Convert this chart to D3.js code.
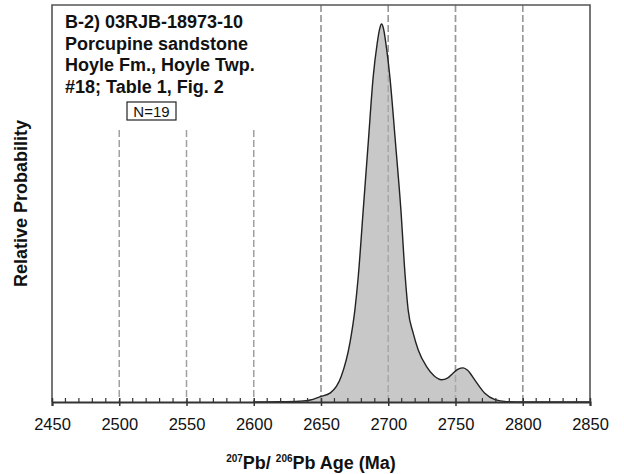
<!DOCTYPE html>
<html>
<head>
<meta charset="utf-8">
<script src="https://cdn.jsdelivr.net/npm/d3@7"></script>
<style>
  html, body { margin: 0; padding: 0; background: #fff; }
  svg { display: block; font-family: "Liberation Sans", Arial, sans-serif; }
</style>
</head>
<body>
<svg id="chart" width="624" height="474"></svg>
<script>
// Probability density curve: age (Ma) and relative probability
const ages = [2600, 2620, 2634, 2642, 2649, 2657, 2665, 2671.5, 2675.2, 2677.7, 2681.4, 2685.1,
              2688.8, 2691.8, 2693.6, 2695, 2696.5, 2698.2, 2701.2, 2705.4, 2709.4, 2712.6, 2714.8,
              2718.5, 2722.3, 2728.5, 2734, 2739.6, 2744, 2748, 2752, 2755.7, 2759, 2764.4, 2771.8,
              2779.3, 2788, 2800, 2850];
const probs = [0, 0.0005, 0.002, 0.005, 0.013, 0.023, 0.064, 0.149, 0.232, 0.316, 0.484, 0.652,
               0.819, 0.904, 0.940, 0.952, 0.940, 0.904, 0.819, 0.652, 0.484, 0.316, 0.232,
               0.174, 0.131, 0.089, 0.066, 0.056, 0.060, 0.072, 0.083, 0.086, 0.080, 0.055, 0.022,
               0.006, 0.001, 0, 0];

const xTicks = [2450, 2500, 2550, 2600, 2650, 2700, 2750, 2800, 2850];
const shortGrid = [2500, 2550, 2600];
const fullGrid = [2650, 2700, 2750, 2800];
const titleLines = ["B-2) 03RJB-18973-10", "Porcupine sandstone", "Hoyle Fm., Hoyle Twp.", "#18; Table 1, Fig. 2"];
const nLabel = "N=19";

const svg = d3.select("#chart");
const plotL = 52, plotR = 590, plotT = 5, plotB = 402;

const x = d3.scaleLinear().domain([2450, 2850]).range([plotL, plotR]);
const y = d3.scaleLinear().domain([0, 1]).range([plotB, plotT]);

const pts = ages.map((a, i) => [a, probs[i]]);

// grid lines
svg.append("g").selectAll("line").data(shortGrid).join("line")
  .attr("x1", d => x(d)).attr("x2", d => x(d))
  .attr("y1", 130).attr("y2", plotB)
  .attr("stroke", "#a0a0a0").attr("stroke-width", 1.5).attr("stroke-dasharray", "7,3");
svg.append("g").selectAll("line").data(fullGrid).join("line")
  .attr("x1", d => x(d)).attr("x2", d => x(d))
  .attr("y1", plotT).attr("y2", plotB)
  .attr("stroke", "#a0a0a0").attr("stroke-width", 1.5).attr("stroke-dasharray", "7,3");

// density area
const area = d3.area().x(d => x(d[0])).y0(y(0)).y1(d => y(d[1])).curve(d3.curveMonotoneX);
const line = d3.line().x(d => x(d[0])).y(d => y(d[1])).curve(d3.curveMonotoneX);
svg.append("path").datum(pts).attr("d", area).attr("fill", "#c2c2c2").attr("fill-opacity", 0.9);
// dashed lines show faintly through the fill
svg.append("g").selectAll("line").data(fullGrid).join("line")
  .attr("x1", d => x(d)).attr("x2", d => x(d))
  .attr("y1", plotT).attr("y2", plotB)
  .attr("stroke", "#909090").attr("stroke-width", 1.5).attr("stroke-dasharray", "7,3").attr("opacity", 0.5);
svg.append("path").datum(pts).attr("d", line).attr("fill", "none")
  .attr("stroke", "#222").attr("stroke-width", 1.4);

// frame
svg.append("path")
  .attr("d", `M${plotL},${plotB}V${plotT}H${plotR}V${plotB}`)
  .attr("fill", "none").attr("stroke", "#555").attr("stroke-width", 1.6);

// x axis
const ax = svg.append("g").attr("transform", `translate(0,${plotB})`)
  .call(d3.axisBottom(x).tickValues(xTicks).tickSize(4).tickPadding(12).tickFormat(d3.format("d")));
ax.select(".domain").attr("stroke", "#333").attr("stroke-width", 2);
ax.selectAll(".tick line").attr("y1", -4).attr("y2", 4).attr("stroke", "#333").attr("stroke-width", 1.5);
ax.selectAll(".tick text").attr("font-size", 16.5).attr("fill", "#111")
  .attr("font-family", "Liberation Sans, Arial, sans-serif");
const minor = d3.range(2460, 2850, 10).filter(v => v % 50 !== 0);
svg.append("g").selectAll("line").data(minor).join("line")
  .attr("x1", d => x(d)).attr("x2", d => x(d))
  .attr("y1", plotB - 4).attr("y2", plotB)
  .attr("stroke", "#333").attr("stroke-width", 1.2);

// axis titles
const xt = svg.append("text").attr("x", 311).attr("y", 469).attr("text-anchor", "middle")
  .attr("font-weight", "bold").attr("font-size", 18).attr("fill", "#111");
xt.append("tspan").text("207").attr("font-size", 10).attr("dy", -7);
xt.append("tspan").text("Pb/ ").attr("dy", 7);
xt.append("tspan").text("206").attr("font-size", 10).attr("dy", -7);
xt.append("tspan").text("Pb Age (Ma)").attr("dy", 7);

svg.append("text").attr("transform", `translate(27,${(plotT + plotB) / 2}) rotate(-90)`)
  .attr("text-anchor", "middle").attr("font-weight", "bold").attr("font-size", 18)
  .attr("fill", "#111").text("Relative Probability");

// sample annotation
svg.append("g").selectAll("text").data(titleLines).join("text")
  .attr("x", 65).attr("y", (d, i) => 28 + i * 21.5)
  .attr("font-weight", "bold").attr("font-size", 18).attr("fill", "#111")
  .text(d => d);

svg.append("rect").attr("x", 127).attr("y", 102).attr("width", 49).attr("height", 18)
  .attr("fill", "#fff").attr("stroke", "#222").attr("stroke-width", 1.2);
svg.append("text").attr("x", 151.5).attr("y", 116.5).attr("text-anchor", "middle")
  .attr("font-size", 15).attr("fill", "#111").text(nLabel);
</script>
</body>
</html>
